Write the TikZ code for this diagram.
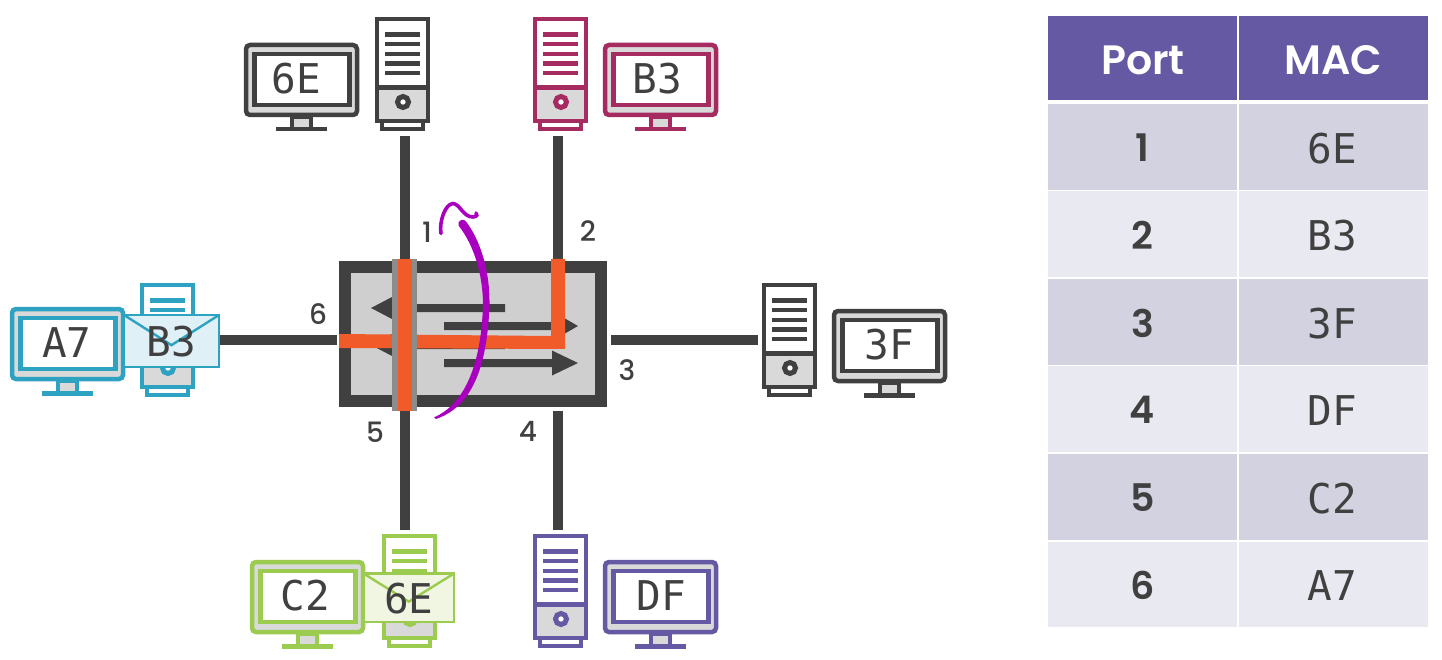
\documentclass[tikz,border=0pt]{standalone}
\usepackage{fontspec}
\setmainfont{Poppins}
\newfontfamily\monof{DejaVu Sans Mono}
\newfontfamily\numf{Poppins Medium}
\newfontfamily\headf{Poppins SemiBold}
\definecolor{dk}{HTML}{404040}
\definecolor{ic}{HTML}{D9D9D9}
\definecolor{swg}{HTML}{CFCFCF}
\definecolor{gbar}{HTML}{8C8C8C}
\definecolor{mag}{HTML}{A62B61}
\definecolor{tl}{HTML}{2EA3C1}
\definecolor{grn}{HTML}{9BCB4F}
\definecolor{pur}{HTML}{6659A4}
\definecolor{org}{HTML}{F15A29}
\definecolor{rowa}{HTML}{D2D2E1}
\definecolor{rowb}{HTML}{E9E9F1}
\definecolor{pp}{HTML}{A800BE}
\definecolor{envb}{HTML}{DFF0F6}
\definecolor{envg}{HTML}{F0F6E2}
\tikzset{
 wire/.style={draw=dk,line width=10pt},
 mono/.style={font=\monof\fontsize{41}{41}\selectfont,text=dk,inner sep=0pt},
 portnum/.style={font=\numf\fontsize{28}{28}\selectfont,text=dk,inner sep=0pt},
 cellnum/.style={font=\headf\fontsize{38}{38}\selectfont,text=dk,inner sep=0pt},
 head/.style={font=\headf\fontsize{41}{41}\selectfont,text=white,inner sep=0pt},
 hcell/.style={fill=pur,draw=none,inner sep=0pt,minimum width=189pt,minimum height=84pt},
 rcella/.style={fill=rowa,draw=none,inner sep=0pt,minimum width=189pt,minimum height=85.5pt},
 rcellb/.style={fill=rowb,draw=none,inner sep=0pt,minimum width=189pt,minimum height=85.5pt},
 flowarrow/.style={fill=dk,draw=none},
}
\newcommand{\monitoricon}[5]{% x y colour label labelx
 \begin{scope}[shift={(#1,#2)},line width=4.5pt,draw=#3]
  \draw[fill=ic,rounded corners=4pt] (2,2) rectangle (113,72);
  \draw[fill=white] (10.5,11) rectangle (105.5,62);
  \draw[fill=ic] (48,74) rectangle (67,86);
  \fill[#3] (32,84) rectangle (83,88.5);
  \node[mono] (#4) at (#5,36) {#4};
 \end{scope}}
\newcommand{\towericon}[3]{% x y colour
 \begin{scope}[shift={(#1,#2)},line width=4.5pt,draw=#3]
  \draw[line width=4pt,fill=white] (7,102) rectangle (48,112);
  \fill[white] (2,2) rectangle (53,71);
  \fill[ic] (2,71) rectangle (53,104);
  \draw (2,2) rectangle (53,104);
  \draw (2,70.5) -- (53,70.5);
  \foreach \yy in {17.5,27,37,46.5,56}{\fill[#3] (10,\yy-2.3) rectangle (45,\yy+2.3);}
  \draw[line width=5pt,fill=white] (28,85) circle (5.5);
 \end{scope}}
\newcommand{\envelope}[7]{% x1 y1 x2 y2 fill colour label
 \filldraw[fill=#5,draw=#6,line width=2.4pt] (#1,#2) rectangle (#3,#4);
 \draw[#6,line width=2.4pt] (#1,#2) -- ({(#1+#3)/2},{#2+0.58*(#4-#2)}) -- (#3,#2);
 \node[mono] (env#7) at ({(#1+#3)/2},{(#2+#4)/2+0.5}) {#7};}
\newcommand{\rightflow}[5]{% x0 base tip y half
 \fill[flowarrow] (#1,#4-4) -- (#2,#4-4) -- (#2,#4-#5) -- (#3,#4) -- (#2,#4+#5) -- (#2,#4+4) -- (#1,#4+4) -- cycle;}
\begin{document}
\begin{tikzpicture}[x=1pt,y=-1pt]
\useasboundingbox (0,0) rectangle (1442,660);
\fill[white] (0,0) rectangle (1442,660);
% connector ends
\coordinate (t1) at (405,136);
\coordinate (t2) at (558,136);
\coordinate (t3) at (758,340);
\coordinate (t4) at (558,530);
\coordinate (t5) at (405,530);
\coordinate (t6) at (220,340);
\coordinate (s1) at (405,259);
\coordinate (s2) at (558,259);
\coordinate (s3) at (611,340);
\coordinate (s4) at (558,411);
\coordinate (s5) at (405,411);
\coordinate (s6) at (337,340);
\draw[wire] (t1) -- (s1);
\draw[wire] (t2) -- (s2);
\draw[wire] (t3) -- (s3);
\draw[wire] (t4) -- (s4);
\draw[wire] (t5) -- (s5);
\draw[wire] (t6) -- (s6);
% icons
\monitoricon{244}{43}{dk}{6E}{52.5}
\towericon{375}{17}{dk}
\towericon{533}{17}{mag}
\monitoricon{603}{43}{mag}{B3}{54}
\towericon{762}{283}{dk}
\monitoricon{832}{309}{dk}{3F}{57}
\towericon{533}{534}{pur}
\monitoricon{603}{560}{pur}{DF}{58}
\monitoricon{250}{560}{grn}{C2}{55}
\towericon{382}{534}{grn}
\monitoricon{10}{307}{tl}{A7}{57}
\towericon{140}{283}{tl}
\envelope{124}{315}{219}{367}{envb}{tl}{B3}
\envelope{363.5}{573.5}{454}{622}{envg}{grn}{6E}
% switch
\node[draw=dk,fill=swg,line width=12pt,inner sep=0pt,minimum width=256pt,minimum height=134pt] (sw) at (473,334) {};
\rightflow{505}{392}{371}{308}{11}
\rightflow{505}{392}{371}{345}{11}
\rightflow{444}{565}{578}{326}{7.5}
\rightflow{444}{552}{578}{363}{12.5}
% orange path
\fill[org] (339,334) -- (551,336) -- (551,259) -- (565,259) -- (565,349) -- (339,348) -- cycle;
\fill[gbar] (392,259) rectangle (417,411);
\fill[org] (398,259) rectangle (412,411);
% purple strokes
\fill[pp] (434,417.5) .. controls (462,405) and (481,370) .. (483,305)
  .. controls (483,275) and (474,245) .. (458.5,225.5)
  .. controls (457,220) and (464,218) .. (466,221.5)
  .. controls (480,240) and (490,270) .. (489.5,305)
  .. controls (487,375) and (468,408) .. (436,419) -- cycle;
\draw[pp,line width=3.6pt,line cap=round] (441,233.5) .. controls (439,222) and (445,204) .. (453,203.5)
  .. controls (460,204) and (463,217) .. (473,217) .. controls (477,217) and (478,214) .. (476,213);
% port labels
\node[portnum] (p1) at (427,232) {1};
\node[portnum] (p2) at (588,231) {2};
\node[portnum] (p3) at (627,370) {3};
\node[portnum] (p4) at (528,431) {4};
\node[portnum] (p5) at (375,432) {5};
\node[portnum] (p6) at (318,314) {6};
% table
\node[hcell] (h1) at (1142.5,58) {};
\node[hcell] (h2) at (1333,58) {};
\node[head] (hp) at (1143,60) {Port};
\node[head] (hm) at (1333,60) {MAC};
\foreach \n/\yc/\st/\pa/\ma in {1/147/rcella/1/6E,2/234/rcellb/2/B3,3/322/rcella/3/3F,4/409/rcellb/4/DF,5/497/rcella/5/C2,6/584.5/rcellb/6/A7}{
 \node[\st] (ca\n) at (1142.5,\yc) {};
 \node[\st] (cb\n) at (1333,\yc) {};
 \node[cellnum] (na\n) at (1142.5,\yc+1) {\pa};
 \node[mono] (nb\n) at (1332,\yc+1.5) {\ma};
}
\end{tikzpicture}
\end{document}
